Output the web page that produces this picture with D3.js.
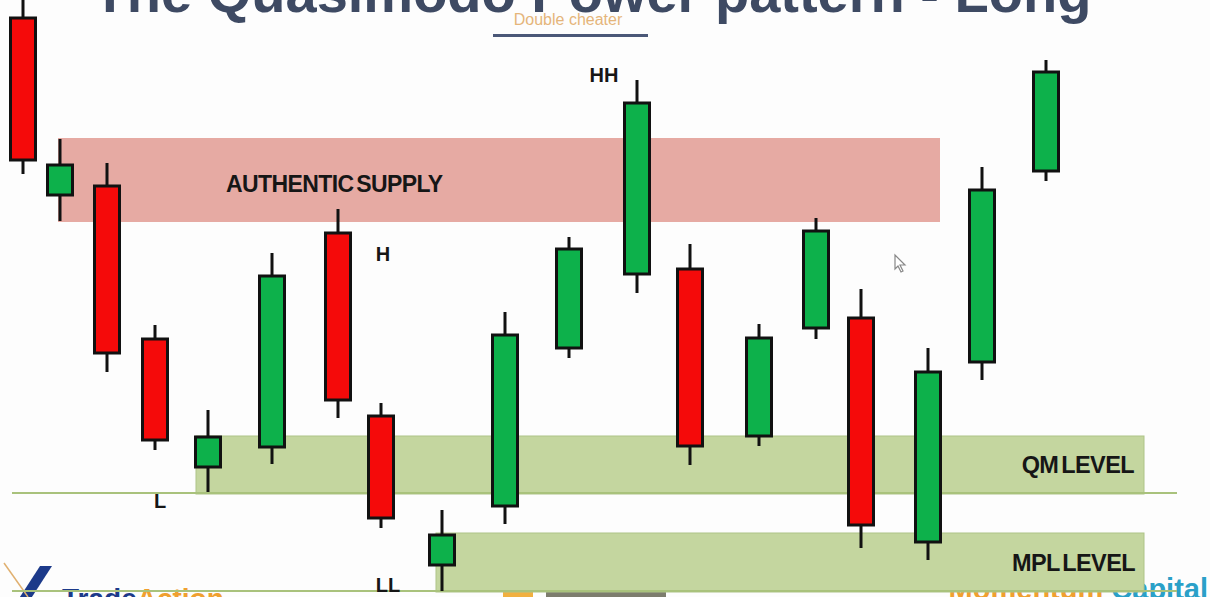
<!DOCTYPE html>
<html>
<head>
<meta charset="utf-8">
<script src="https://cdn.jsdelivr.net/npm/d3@7"></script>
<style>
  html, body { margin: 0; padding: 0; background: #fdfdfd; overflow: hidden; }
  svg { display: block; }
</style>
</head>
<body>
<svg id="chart" width="1210" height="597"></svg>
<script>
// Candle time slots (horizontal positions on the session axis)
const slots  = [23, 60, 107, 155, 208, 272, 338, 381, 442, 505, 569, 637, 690, 759, 816, 861, 928, 982, 1046];
// Price series (OHLC)
const opens  = [582, 405, 414, 261, 133, 153, 367, 184,  35,  94, 252, 326, 331, 164, 272, 282,  58, 238, 429];
const closes = [440, 435, 247, 160, 163, 324, 200,  82,  65, 265, 351, 497, 154, 262, 369,  75, 228, 410, 528];
const highs  = [606, 461, 437, 275, 190, 347, 391, 197,  90, 288, 363, 520, 356, 276, 382, 311, 252, 433, 540];
const lows   = [426, 379, 228, 150, 108, 136, 182,  72,   9,  76, 242, 307, 135, 154, 261,  52,  40, 220, 419];

// Price zones: [name, from slot, to slot, upper price, lower price]
const zoneNames  = ["AUTHENTIC SUPPLY", "QM LEVEL", "MPL LEVEL"];
const zoneStart  = [58, 196, 436];
const zoneEnd    = [940, 1144, 1144];
const zoneTop    = [462, 164, 67];
const zoneBottom = [378, 106, 8];

// Horizontal reference levels (price) and their extents
const levelPrices = [107, 9];
const levelStart  = [12, 12];
const levelEnd    = [1177, 1177];

// Swing-point annotations
const swingLabels = ["L", "LL", "H", "HH"];
const swingSlots  = [160, 388, 383, 604];
const swingPrices = [92, 8, 339, 518];

const svg = d3.select("#chart");
const W = 1210, H = 597;

const x = d3.scaleLinear().domain([0, 1210]).range([0, W]);
const y = d3.scaleLinear().domain([0, 600]).range([600, 0]);

const candles = slots.map((s, i) => ({
  s, o: opens[i], c: closes[i], h: highs[i], l: lows[i]
}));

const FONT = "Liberation Sans, Arial, sans-serif";

// Footer logos (sit underneath the zones, partly below the frame)
const foot = svg.append("g").attr("font-family", FONT).attr("font-weight", "bold");
foot.append("path").attr("d", "M18,600 L40,566 L52,566 L30,600 Z").attr("fill", "#1c3a8a");
foot.append("line").attr("x1", 4).attr("y1", 563).attr("x2", 28).attr("y2", 597)
  .attr("stroke", "#e0b070").attr("stroke-width", 1.5);
const ta = foot.append("text").attr("x", 62).attr("y", 608).attr("font-size", 28);
ta.append("tspan").attr("fill", "#1c3a8a").text("Trade");
ta.append("tspan").attr("fill", "#f0a030").text("Action");

const cap = foot.append("text").attr("x", 1208).attr("y", 599).attr("font-size", 29).attr("text-anchor", "end");
cap.append("tspan").attr("fill", "#f0a030").text("Momentum ");
cap.append("tspan").attr("fill", "#2aa0c8").text("Capital");

// Small video control strip near bottom centre
svg.append("rect").attr("x", 546).attr("y", 590).attr("width", 120).attr("height", 10)
  .attr("rx", 3).attr("fill", "#7d7d6e");
svg.append("rect").attr("x", 503).attr("y", 592).attr("width", 30).attr("height", 8).attr("fill", "#f1b040");

const zoneColors = ["#e6aaa3", "#c4d69f", "#c4d69f"];

// Zones
const zones = zoneNames.map((n, i) => ({
  n, x0: zoneStart[i], x1: zoneEnd[i], top: zoneTop[i], bot: zoneBottom[i], col: zoneColors[i]
}));

svg.append("g").selectAll("rect").data(zones).join("rect")
  .attr("x", d => x(d.x0))
  .attr("y", d => y(d.top))
  .attr("width", d => x(d.x1) - x(d.x0))
  .attr("height", d => y(d.bot) - y(d.top))
  .attr("fill", d => d.col)
  .attr("stroke", (d, i) => i === 0 ? "none" : "#aec487")
  .attr("stroke-width", 1);

// Reference lines
svg.append("g").selectAll("line").data(levelPrices).join("line")
  .attr("x1", (d, i) => x(levelStart[i]))
  .attr("x2", (d, i) => x(levelEnd[i]))
  .attr("y1", d => y(d))
  .attr("y2", d => y(d))
  .attr("stroke", "#a9c27c")
  .attr("stroke-width", 2);

// Title (top of the slide)
svg.append("text")
  .attr("x", 592).attr("y", 12)
  .attr("text-anchor", "middle")
  .attr("font-family", FONT)
  .attr("font-weight", "bold")
  .attr("font-size", 56)
  .attr("fill", "#3e4a63")
  .text("The Quasimodo Power pattern - Long");

// Subtitle with rule
svg.append("text")
  .attr("x", 568).attr("y", 25)
  .attr("text-anchor", "middle")
  .attr("font-family", FONT)
  .attr("font-size", 16)
  .attr("fill", "#e5b57a")
  .text("Double cheater");
svg.append("line")
  .attr("x1", 493).attr("x2", 648).attr("y1", 35.5).attr("y2", 35.5)
  .attr("stroke", "#4b5878").attr("stroke-width", 3);

// Candles
const bodyW = 25;
const g = svg.append("g");
g.selectAll("line.wick").data(candles).join("line")
  .attr("class", "wick")
  .attr("x1", d => x(d.s)).attr("x2", d => x(d.s))
  .attr("y1", d => y(d.h)).attr("y2", d => y(d.l))
  .attr("stroke", "#111").attr("stroke-width", 3);

g.selectAll("rect.body").data(candles).join("rect")
  .attr("class", "body")
  .attr("x", d => x(d.s) - bodyW / 2)
  .attr("y", d => y(Math.max(d.o, d.c)))
  .attr("width", bodyW)
  .attr("height", d => Math.abs(y(d.o) - y(d.c)))
  .attr("fill", d => d.c >= d.o ? "#0db14b" : "#f50a0a")
  .attr("stroke", "#111")
  .attr("stroke-width", 3);

// Zone labels
const lab = svg.append("g")
  .attr("font-family", FONT)
  .attr("font-weight", "bold")
  .attr("fill", "#161616");
lab.append("text").attr("x", 226).attr("y", y(408)).attr("font-size", 23)
  .attr("letter-spacing", -0.6).attr("word-spacing", -3).text(zoneNames[0]);
lab.append("text").attr("x", 1134).attr("y", y(127)).attr("font-size", 23.5)
  .attr("text-anchor", "end").attr("letter-spacing", -0.6).attr("word-spacing", -3).text(zoneNames[1]);
lab.append("text").attr("x", 1135).attr("y", y(29)).attr("font-size", 23.5)
  .attr("text-anchor", "end").attr("letter-spacing", -0.6).attr("word-spacing", -3).text(zoneNames[2]);

// Swing labels
lab.selectAll("text.swing").data(swingLabels).join("text")
  .attr("class", "swing")
  .attr("x", (d, i) => x(swingSlots[i]))
  .attr("y", (d, i) => y(swingPrices[i]))
  .attr("text-anchor", "middle")
  .attr("font-size", 20)
  .text(d => d);

// Mouse pointer
svg.append("path")
  .attr("d", "M895,255 L895,269 L898,266 L901,272 L903,271 L900,265 L905,265 Z")
  .attr("fill", "#fff").attr("stroke", "#888").attr("stroke-width", 1.2);
</script>
</body>
</html>
